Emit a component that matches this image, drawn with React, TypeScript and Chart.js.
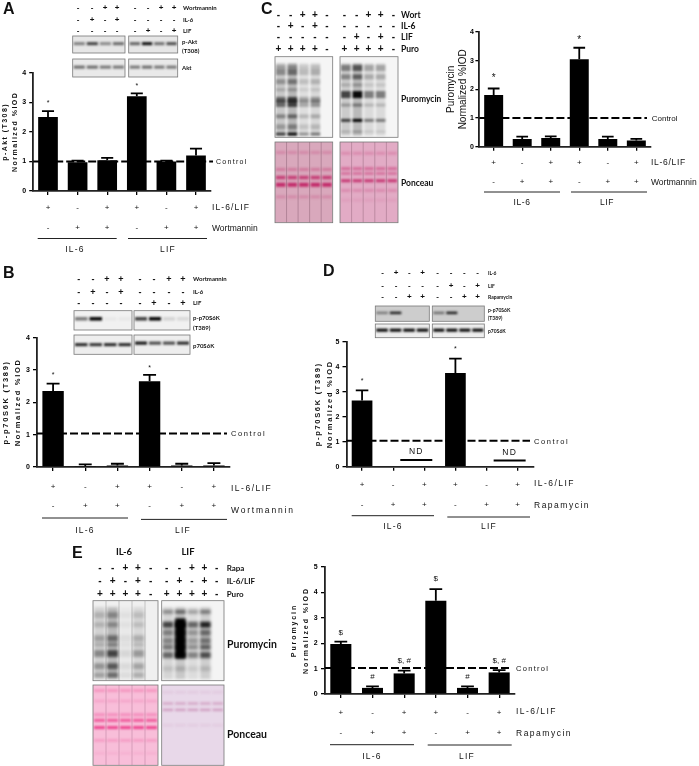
import React, { useEffect, useRef } from "react";
import { Chart, registerables } from "chart.js";

Chart.register(...registerables);

const SANS = '"Liberation Sans", Arial, sans-serif';
const LATO = 'Lato, "Open Sans", sans-serif';

// ---------- data ----------
const categories = ["1", "2", "3", "4", "5", "6"];
const aValues = [2.5, 0.97, 1.04, 3.2, 1.0, 1.2];
const aErrors = [0.2, 0.06, 0.08, 0.1, 0.03, 0.23];
const bValues = [2.35, 0.03, 0.05, 2.65, 0.05, 0.05];
const bErrors = [0.23, 0.05, 0.05, 0.2, 0.05, 0.07];
const cValues = [1.8, 0.27, 0.3, 3.05, 0.27, 0.22];
const cErrors = [0.23, 0.08, 0.06, 0.4, 0.08, 0.05];
const dValues = [2.65, 0, 0, 3.75, 0, 0];
const dErrors = [0.4, 0, 0, 0.57, 0, 0];
const eValues = [1.97, 0.24, 0.81, 3.67, 0.24, 0.85];
const eErrors = [0.09, 0.06, 0.11, 0.46, 0.06, 0.09];
const il6LifRow = ["+", "-", "+", "+", "-", "+"];
const drugRow = ["-", "+", "+", "-", "+", "+"];

const aBlotRows = [
  ["-", "-", "+", "+", "-", "-", "+", "+"],
  ["-", "+", "-", "+", "-", "-", "-", "-"],
  ["-", "-", "-", "-", "-", "+", "-", "+"],
];
const dBlotRows = [
  ["-", "+", "-", "+", "-", "-", "-", "-"],
  ["-", "-", "-", "-", "-", "+", "-", "+"],
  ["-", "-", "+", "+", "-", "-", "+", "+"],
];
const cBlotRows = [
  ["-", "-", "+", "+", "-", "-", "-", "+", "+", "-"],
  ["-", "+", "-", "+", "-", "-", "-", "-", "-", "-"],
  ["-", "-", "-", "-", "-", "-", "+", "-", "+", "-"],
  ["+", "+", "+", "+", "-", "+", "+", "+", "+", "-"],
];
const eBlotRows = [
  ["-", "-", "+", "+", "-", "-", "-", "+", "+", "-"],
  ["-", "+", "-", "+", "-", "-", "+", "-", "+", "-"],
  ["+", "+", "+", "+", "-", "+", "+", "+", "+", "-"],
];

// ---------- charts ----------
type Panel = {
  box: [number, number, number, number];
  plot: [number, number, number, number];
  values: number[];
  errors: number[];
  yMax: number;
  yTitle: string[];
  titleX: number;
  titleLine: number;
  titleFont: { size: number; weight: string };
  titleSpacing: number;
  control: number;
  dashEnd: number;
  controlX: number;
  controlSize: number;
  controlSpacing: number;
  rowsY: [number, number];
  labelsY: [number, number];
  rowLabelX: number;
  rowLabels: [string, string];
  rowSpacing: [number, number];
  groupLines: [number, number, number][];
  groups: [string, number, number][];
  groupSpacing: number;
  notes: [number, number, string][];
  noteSize: number;
  nd?: [number, number][];
};

const panels: Panel[] = [
  {
    box: [0, 60, 270, 200], plot: [33.2, 72.7, 210.8, 191], values: aValues, errors: aErrors, yMax: 4,
    yTitle: ["p-Akt (T308)", "Normalized %IOD"], titleX: 5, titleLine: 10, titleFont: { size: 7, weight: "bold" }, titleSpacing: 1.45,
    control: 1, dashEnd: 213, controlX: 216, controlSize: 7, controlSpacing: 1.3,
    rowsY: [208, 228], labelsY: [208, 229], rowLabelX: 212, rowLabels: ["IL-6/LIF", "Wortmannin"], rowSpacing: [1.1, 0],
    groupLines: [[37.7, 116.7, 238.5], [128, 207, 238.5]], groups: [["IL-6", 75, 250], ["LIF", 168, 250]], groupSpacing: 1.2,
    notes: [[0, 3.04, "*"], [3, 3.6, "*"]], noteSize: 7,
  },
  {
    box: [0, 325, 300, 215], plot: [37, 337.7, 230, 467], values: bValues, errors: bErrors, yMax: 4,
    yTitle: ["p-p70S6K (T389)", "Normalized %IOD"], titleX: 6, titleLine: 12, titleFont: { size: 7.5, weight: "bold" }, titleSpacing: 1.7,
    control: 1.04, dashEnd: 227, controlX: 231, controlSize: 7.5, controlSpacing: 1.6,
    rowsY: [487, 506], labelsY: [489, 511], rowLabelX: 231, rowLabels: ["IL-6/LIF", "Wortmannin"], rowSpacing: [1.5, 1.8],
    groupLines: [[42, 128, 518], [141, 227, 519.4]], groups: [["IL-6", 85, 531], ["LIF", 183, 531]], groupSpacing: 1.2,
    notes: [[0, 2.9, "*"], [3, 3.1, "*"]], noteSize: 7,
  },
  {
    box: [440, 20, 259, 195], plot: [479.4, 32, 650.6, 146.7], values: cValues, errors: cErrors, yMax: 4,
    yTitle: ["Puromycin", "Normalized %IOD"], titleX: 451, titleLine: 12, titleFont: { size: 10, weight: "normal" }, titleSpacing: 0,
    control: 1, dashEnd: 647, controlX: 651.7, controlSize: 8, controlSpacing: 0,
    rowsY: [163, 182], labelsY: [163, 183], rowLabelX: 651, rowLabels: ["IL-6/LIF", "Wortmannin"], rowSpacing: [0.7, 0],
    groupLines: [[484, 560, 192], [571, 647, 192]], groups: [["IL-6", 522, 203], ["LIF", 607, 203]], groupSpacing: 0.6,
    notes: [[0, 2.47, "*"], [3, 3.79, "*"]], noteSize: 10,
  },
  {
    box: [310, 330, 389, 205], plot: [346.5, 341.7, 533.2, 466.7], values: dValues, errors: dErrors, yMax: 5,
    yTitle: ["p-p70S6K (T389)", "Normalized %IOD"], titleX: 318, titleLine: 12, titleFont: { size: 7.5, weight: "bold" }, titleSpacing: 1.7,
    control: 1.04, dashEnd: 530, controlX: 534, controlSize: 7.5, controlSpacing: 1.6,
    rowsY: [485, 505], labelsY: [484, 506], rowLabelX: 534, rowLabels: ["IL-6/LIF", "Rapamycin"], rowSpacing: [1.45, 1.5],
    groupLines: [[351.7, 434, 515.7], [447.3, 530, 517]], groups: [["IL-6", 393, 527], ["LIF", 489, 527]], groupSpacing: 1.2,
    notes: [[0, 3.5, "*"], [3, 4.77, "*"]], noteSize: 7, nd: [[2, 0.27], [5, 0.25]],
  },
  {
    box: [280, 558, 419, 208], plot: [325, 567, 515, 694], values: eValues, errors: eErrors, yMax: 5,
    yTitle: ["Puromycin", "Normalized %IOD"], titleX: 294, titleLine: 12, titleFont: { size: 7, weight: "bold" }, titleSpacing: 1.9,
    control: 1.02, dashEnd: 511.7, controlX: 516, controlSize: 7.5, controlSpacing: 1.3,
    rowsY: [712.7, 733], labelsY: [712, 734], rowLabelX: 516, rowLabels: ["IL-6/LIF", "Rapamycin"], rowSpacing: [1.45, 1.5],
    groupLines: [[330, 414, 744.7], [427.7, 511.7, 745]], groups: [["IL-6", 372, 757], ["LIF", 467, 757]], groupSpacing: 1.2,
    notes: [[0, 2.41, "$"], [1, 0.67, "#"], [2, 1.3, "$, #"], [3, 4.53, "$"], [4, 0.67, "#"], [5, 1.3, "$, #"]], noteSize: 8,
  },
];

function PanelChart({ p }: { p: Panel }) {
  const ref = useRef<HTMLCanvasElement>(null);
  useEffect(() => {
    const [bx, by, bw, bh] = p.box;
    const [l, t, r, b] = p.plot;
    const W = l - (p.titleX - p.titleLine / 2);
    const H = 6;
    const put = (ctx: any, s: string, x: number, y: number, font: string, align: CanvasTextAlign, sp = 0) => {
      ctx.save();
      ctx.font = font;
      ctx.fillStyle = "#111";
      ctx.textAlign = align;
      ctx.textBaseline = "middle";
      ctx.letterSpacing = sp + "px";
      ctx.fillText(s, x, y);
      ctx.restore();
    };
    const marks = {
      id: "marks",
      beforeDraw(c: any) {
        c.ctx.letterSpacing = p.titleSpacing + "px";
      },
      beforeDatasetsDraw(c: any) {
        const { ctx, scales } = c;
        const y = scales.y.getPixelForValue(p.control);
        ctx.save();
        ctx.strokeStyle = "#000";
        ctx.lineWidth = 2;
        ctx.setLineDash([8, 3]);
        ctx.beginPath();
        ctx.moveTo(c.chartArea.left, y);
        ctx.lineTo(p.dashEnd - bx, y);
        ctx.stroke();
        ctx.restore();
      },
      afterDatasetsDraw(c: any) {
        const { ctx, scales } = c;
        const cat = (scales.x.getPixelForValue(1) - scales.x.getPixelForValue(0));
        const cap = cat * 0.34;
        ctx.save();
        ctx.strokeStyle = "#000";
        ctx.lineWidth = 1.8;
        p.values.forEach((v, i) => {
          if (!p.errors[i]) return;
          const x = scales.x.getPixelForValue(i);
          const y0 = scales.y.getPixelForValue(v);
          const y1 = scales.y.getPixelForValue(v + p.errors[i]);
          ctx.beginPath();
          ctx.moveTo(x, y0);
          ctx.lineTo(x, y1);
          ctx.moveTo(x - cap / 2 - 1, y1);
          ctx.lineTo(x + cap / 2 + 1, y1);
          ctx.stroke();
        });
        p.groupLines.forEach(([a, e, y]) => {
          ctx.lineWidth = 1;
          ctx.strokeStyle = "#222";
          ctx.beginPath();
          ctx.moveTo(a - bx, y - by);
          ctx.lineTo(e - bx, y - by);
          ctx.stroke();
        });
        (p.nd || []).forEach(([i, v]) => {
          const x = scales.x.getPixelForValue(i) - 8;
          const y = scales.y.getPixelForValue(v);
          ctx.lineWidth = 2;
          ctx.strokeStyle = "#000";
          ctx.beginPath();
          ctx.moveTo(x - 16, y);
          ctx.lineTo(x + 16, y);
          ctx.stroke();
          put(ctx, "ND", x, y - 8, `8.5px ${SANS}`, "center", 1.2);
        });
        ctx.restore();
        p.notes.forEach(([i, v, s]) => {
          const shift = s === "*" ? p.noteSize * 0.22 : 0;
          put(ctx, s, scales.x.getPixelForValue(i), scales.y.getPixelForValue(v) + shift, `${p.noteSize}px ${SANS}`, "center");
        });
        [il6LifRow, drugRow].forEach((row, k) => {
          row.forEach((s, i) => {
            put(ctx, s, scales.x.getPixelForValue(i), p.rowsY[k] - by, `8px ${SANS}`, "center");
          });
          put(ctx, p.rowLabels[k], p.rowLabelX - bx, p.labelsY[k] - by, `8.5px ${SANS}`, "left", p.rowSpacing[k]);
        });
        put(ctx, "Control", p.controlX - bx, scales.y.getPixelForValue(p.control) + 1, `${p.controlSize}px ${SANS}`, "left", p.controlSpacing);
        p.groups.forEach(([s, x, y]) => put(ctx, s, x - bx, y - by, `8.5px ${SANS}`, "center", p.groupSpacing));
      },
    };
    const chart = new Chart(ref.current!, {
      type: "bar",
      data: {
        labels: categories,
        datasets: [{ data: p.values, backgroundColor: "#000", borderWidth: 0, barPercentage: 0.665, categoryPercentage: 1 }],
      },
      options: {
        animation: false,
        responsive: false,
        devicePixelRatio: 1,
        layout: { padding: { left: l - W - bx, top: t - by, right: bx + bw - r, bottom: by + bh - b - H } },
        plugins: { legend: { display: false }, tooltip: { enabled: false } },
        scales: {
          x: {
            offset: true,
            grid: { offset: false, drawOnChartArea: false, drawTicks: true, tickLength: 4, color: "#000", lineWidth: 1.3 },
            border: { color: "#222", width: 1.8 },
            ticks: { display: false },
            afterFit: (s: any) => { s.height = H; },
          },
          y: {
            min: 0,
            max: p.yMax,
            grid: { drawOnChartArea: false, drawTicks: true, tickLength: 4, color: "#000", lineWidth: 1.3 },
            border: { color: "#222", width: 1.8 },
            ticks: { stepSize: 1, padding: 1.5, color: "#000", font: { family: SANS, size: 7, weight: "bold" } },
            title: {
              display: true,
              text: p.yTitle,
              color: "#111",
              padding: 0,
              font: { family: SANS, size: p.titleFont.size, weight: p.titleFont.weight, lineHeight: p.titleLine / p.titleFont.size },
            },
            afterFit: (s: any) => { s.width = W; },
          },
        },
      } as any,
      plugins: [marks as any],
    });
    return () => chart.destroy();
  }, [p]);
  return (
    <canvas
      ref={ref}
      width={p.box[2]}
      height={p.box[3]}
      style={{ position: "absolute", left: p.box[0], top: p.box[1], width: p.box[2], height: p.box[3] }}
    />
  );
}

// ---------- blots (photographic panels, not chart marks) ----------
type Band = [number, number, number];
type Blot = {
  x: number; y: number; w: number; h: number;
  bg: string; ink: string; lanes: number[]; bands: Band[];
  smear?: number; blocks?: [number, number, number, number][];
  blur?: number; seam?: string;
};
const K = "0,0,0";
const westA = [
  { x: 72.7, y: 36, w: 52.3, h: 17, bg: "#e6e6e6", ink: K, lanes: [0.5, 0.8, 0.45, 0.6], bands: [[0.45, 3, 0.9]] },
  { x: 128.7, y: 36, w: 49, h: 17, bg: "#e6e6e6", ink: K, lanes: [0.6, 1, 0.55, 0.7], bands: [[0.45, 3, 0.95]] },
  { x: 72.7, y: 59, w: 52.3, h: 18, bg: "#e9e9e9", ink: K, lanes: [0.6, 0.6, 0.55, 0.55], bands: [[0.45, 3, 0.9]] },
  { x: 128.7, y: 59, w: 49, h: 18, bg: "#e9e9e9", ink: K, lanes: [0.55, 0.6, 0.55, 0.55], bands: [[0.45, 3, 0.9]] },
] as Blot[];
const westB = [
  { x: 74, y: 310.7, w: 58, h: 19.3, bg: "#f1f1f1", ink: K, lanes: [0.5, 1, 0.04, 0.04], bands: [[0.42, 3.5, 1]] },
  { x: 134, y: 310.7, w: 56, h: 19.3, bg: "#f1f1f1", ink: K, lanes: [0.75, 1, 0.12, 0.1], bands: [[0.42, 3.5, 1]] },
  { x: 74, y: 335, w: 58, h: 19.3, bg: "#eeeeee", ink: K, lanes: [0.85, 0.8, 0.85, 0.85], bands: [[0.5, 3, 1]] },
  { x: 134, y: 335, w: 56, h: 19.3, bg: "#eeeeee", ink: K, lanes: [0.95, 0.7, 0.7, 0.85], bands: [[0.42, 3, 1]] },
] as Blot[];
const westD = [
  { x: 375.3, y: 306, w: 54, h: 15.3, bg: "#cdcdcd", ink: K, lanes: [0.4, 0.85, 0, 0], bands: [[0.45, 2.5, 1]] },
  { x: 432.3, y: 306, w: 52, h: 15.3, bg: "#cdcdcd", ink: K, lanes: [0.45, 0.85, 0, 0], bands: [[0.45, 2.5, 1]] },
  { x: 375.3, y: 324, w: 54, h: 13.7, bg: "#eeeeee", ink: K, lanes: [1, 1, 1, 1], bands: [[0.45, 3, 1]] },
  { x: 432.3, y: 324, w: 52, h: 13.7, bg: "#eeeeee", ink: K, lanes: [1, 1, 1, 1], bands: [[0.45, 3, 1]] },
] as Blot[];
const puroC = [
  { x: 275, y: 56.7, w: 57.7, h: 80.6, bg: "#f5f5f5", ink: K, lanes: [0.7, 0.95, 0.35, 0.45, 0], smear: 0.26, blur: 1.3,
    bands: [[0.13, 4, 0.3], [0.19, 6, 0.45], [0.31, 5, 0.4], [0.41, 3, 0.25], [0.53, 5, 0.7], [0.58, 7, 0.7], [0.74, 4, 0.5], [0.87, 5, 0.35], [0.96, 3, 1]] },
  { x: 340, y: 56.7, w: 58, h: 80.6, bg: "#f5f5f5", ink: K, lanes: [0.7, 1, 0.45, 0.45, 0], smear: 0.24, blur: 1.3,
    bands: [[0.14, 6, 0.55], [0.25, 5, 0.5], [0.35, 3, 0.25], [0.47, 7, 0.95], [0.6, 3, 0.4], [0.79, 3, 1], [0.93, 2, 0.25]] },
] as Blot[];
const poncC = [
  { x: 275, y: 142, w: 57.7, h: 80.7, bg: "#d9a8bc", ink: "190,20,90", lanes: [1, 1, 1, 1, 1], blur: 1.3, seam: "rgba(110,70,90,.5)",
    bands: [[0.13, 3, 0.2], [0.34, 3, 0.3], [0.44, 3.5, 0.7], [0.53, 4, 0.85], [0.68, 3, 0.2]] },
  { x: 340, y: 142, w: 58, h: 80.7, bg: "#e2abc5", ink: "190,20,90", lanes: [1, 1, 1, 1, 1], blur: 1.3, seam: "rgba(110,70,90,.45)",
    bands: [[0.14, 3, 0.2], [0.33, 3, 0.4], [0.39, 2.5, 0.4], [0.48, 3, 0.75], [0.6, 3, 0.2], [0.72, 3, 0.08]] },
] as Blot[];
const puroE = [
  { x: 93, y: 600.7, w: 65, h: 80, bg: "#f0f0f0", ink: K, lanes: [0.55, 1, 0.12, 0.45, 0], smear: 0.22, blur: 1.6, seam: "rgba(60,60,60,.35)",
    bands: [[0.18, 6, 0.3], [0.3, 5, 0.3], [0.47, 6, 0.45], [0.55, 4, 0.35], [0.66, 7, 0.65], [0.82, 6, 0.55], [0.93, 5, 0.45]] },
  { x: 161.7, y: 600.7, w: 62.3, h: 80, bg: "#f4f4f4", ink: K, lanes: [0.7, 1, 0.55, 0.85, 0], smear: 0.18, blur: 1.6,
    bands: [[0.14, 4, 0.5], [0.3, 6, 1], [0.4, 6, 0.6], [0.5, 6, 0.55], [0.58, 5, 0.65], [0.68, 6, 0.75], [0.85, 5, 0.15]],
    blocks: [[1, 0.22, 0.72, 1]] },
] as Blot[];
const poncE = [
  { x: 93, y: 685, w: 65, h: 80.3, bg: "#f8bed9", ink: "235,40,125", lanes: [1, 1, 1, 1, 1], blur: 1.3, seam: "rgba(120,60,90,.35)",
    bands: [[0.07, 3, 0.25], [0.2, 3, 0.15], [0.37, 3, 0.3], [0.44, 3, 0.65], [0.53, 3, 0.8], [0.69, 3, 0.2], [0.85, 3, 0.08]] },
  { x: 161.7, y: 685, w: 62.3, h: 80.3, bg: "#e8d8e9", ink: "170,60,125", lanes: [1, 1, 1, 1, 1], blur: 1.3,
    bands: [[0.09, 3, 0.08], [0.23, 3, 0.25], [0.31, 2.5, 0.35], [0.5, 3, 0.07]] },
] as Blot[];
const allBlots: Blot[] = [...westA, ...westB, ...westD, ...puroC, ...poncC, ...puroE, ...poncE];

function BlotLayer() {
  const ref = useRef<HTMLCanvasElement>(null);
  useEffect(() => {
    const ctx = ref.current!.getContext("2d")!;
    ctx.clearRect(0, 0, 699, 766);
    allBlots.forEach((b) => {
      ctx.save();
      ctx.beginPath();
      ctx.rect(b.x, b.y, b.w, b.h);
      ctx.clip();
      ctx.fillStyle = b.bg;
      ctx.fillRect(b.x, b.y, b.w, b.h);
      ctx.filter = `blur(${b.blur ?? 0.8}px)`;
      const lw = b.w / b.lanes.length;
      b.lanes.forEach((v, i) => {
        const lx = b.x + i * lw + 1;
        const w = lw - 2;
        if (b.smear) {
          ctx.fillStyle = `rgba(${b.ink},${b.smear * v})`;
          ctx.fillRect(lx, b.y + b.h * 0.08, w, b.h * 0.9);
        }
        b.bands.forEach(([f, th, s]) => {
          ctx.fillStyle = `rgba(${b.ink},${Math.min(1, s * v)})`;
          ctx.fillRect(lx, b.y + b.h * f - th / 2, w, th);
        });
      });
      (b.blocks || []).forEach(([i, f0, f1, a]) => {
        ctx.fillStyle = `rgba(${b.ink},${a})`;
        ctx.fillRect(b.x + i * lw + 1, b.y + b.h * f0, lw - 2, b.h * (f1 - f0));
      });
      ctx.filter = "none";
      if (b.seam) {
        ctx.strokeStyle = b.seam;
        ctx.lineWidth = 0.7;
        b.lanes.slice(1).forEach((_, i) => {
          ctx.beginPath();
          ctx.moveTo(b.x + (i + 1) * lw, b.y);
          ctx.lineTo(b.x + (i + 1) * lw, b.y + b.h);
          ctx.stroke();
        });
      }
      ctx.restore();
      ctx.strokeStyle = "#777";
      ctx.lineWidth = 0.8;
      ctx.strokeRect(b.x, b.y, b.w, b.h);
    });
  }, []);
  return <canvas ref={ref} width={699} height={766} style={{ position: "absolute", left: 0, top: 0 }} />;
}

// ---------- text around the blots ----------
function T({ x, y, s, size, weight = "bold", font = LATO, align = "left" }: any) {
  return (
    <span
      style={{
        position: "absolute", left: x, top: y, fontFamily: font, fontSize: size, fontWeight: weight, color: "#111",
        lineHeight: 1, whiteSpace: "nowrap",
        transform: `translate(${align === "center" ? "-50%" : "0"},-50%)`,
      }}
    >
      {s}
    </span>
  );
}

function Signs({ rows, cols, ys, size }: { rows: string[][]; cols: number[]; ys: number[]; size: number }) {
  return (
    <>
      {rows.map((row, r) =>
        row.map((s, i) => <T key={r + "-" + i} x={cols[i]} y={ys[r]} s={s} size={size} font={SANS} align="center" />)
      )}
    </>
  );
}

const aCols = [78, 92, 105, 117, 135, 148, 161, 174];
const bCols = [78.7, 93, 107, 121, 140, 154, 169, 183];
const cCols = [278.3, 290.7, 302.7, 315, 327, 344.3, 356.7, 368.3, 380.7, 393.3];
const dCols = [382.7, 396, 409.3, 422.7, 437.7, 451, 464.3, 477.7];
const eCols = [100, 112.7, 125.3, 138, 150.7, 166.7, 179.3, 192, 204.3, 216.7];

const blotTexts: [number, number, string, number][] = [
  [183, 8, "Wortmannin", 6], [183, 19.5, "IL-6", 6], [183, 31, "LIF", 6],
  [182, 42, "p-Akt", 6], [182, 51, "(T308)", 6], [182, 68, "Akt", 6],
  [193, 279, "Wortmannin", 6], [193, 292, "IL-6", 6], [193, 303, "LIF", 6],
  [193, 318, "p-p70S6K", 6], [193, 328, "(T389)", 6], [193, 346, "p70S6K", 6],
  [401, 15, "Wort", 8.5], [401, 26, "IL-6", 8.5], [401, 37, "LIF", 8.5], [401, 49, "Puro", 8.5],
  [401, 99, "Puromycin", 8.5], [401, 183, "Ponceau", 8.5],
  [488, 273, "IL-6", 5], [488, 286, "LIF", 5], [488, 297, "Rapamycin", 5],
  [488, 310, "p-p70S6K", 5], [488, 318, "(T389)", 5], [488, 331, "p70S6K", 5],
  [226.7, 568, "Rapa", 8], [226.7, 581, "IL-6/LIF", 8], [226.7, 594, "Puro", 8],
  [227, 644, "Puromycin", 10.5], [227, 734, "Ponceau", 10.5],
];

export default function App() {
  return (
    <div style={{ position: "absolute", left: 0, top: 0, width: 699, height: 766, overflow: "hidden", background: "#fff", filter: "blur(0.35px)" }}>
      <BlotLayer />
      {panels.map((p, i) => <PanelChart key={i} p={p} />)}
      <Signs rows={aBlotRows} cols={aCols} ys={[8, 19.5, 31]} size={8} />
      <Signs rows={aBlotRows} cols={bCols} ys={[279, 292, 303]} size={9} />
      <Signs rows={cBlotRows} cols={cCols} ys={[15, 26, 37, 49]} size={10} />
      <Signs rows={dBlotRows} cols={dCols} ys={[273, 286, 297]} size={8} />
      <Signs rows={eBlotRows} cols={eCols} ys={[568, 581, 594]} size={10} />
      {blotTexts.map(([x, y, s, size], i) => <T key={i} x={x} y={y} s={s} size={size} />)}
      <T x={124} y={552} s="IL-6" size={9.5} align="center" />
      <T x={188} y={552} s="LIF" size={9.5} align="center" />
      <T x={3} y={9} s="A" size={16} font={SANS} />
      <T x={3} y={273} s="B" size={16} font={SANS} />
      <T x={261} y={9} s="C" size={16} font={SANS} />
      <T x={323} y={271} s="D" size={16} font={SANS} />
      <T x={72} y={553} s="E" size={16} font={SANS} />
    </div>
  );
}
